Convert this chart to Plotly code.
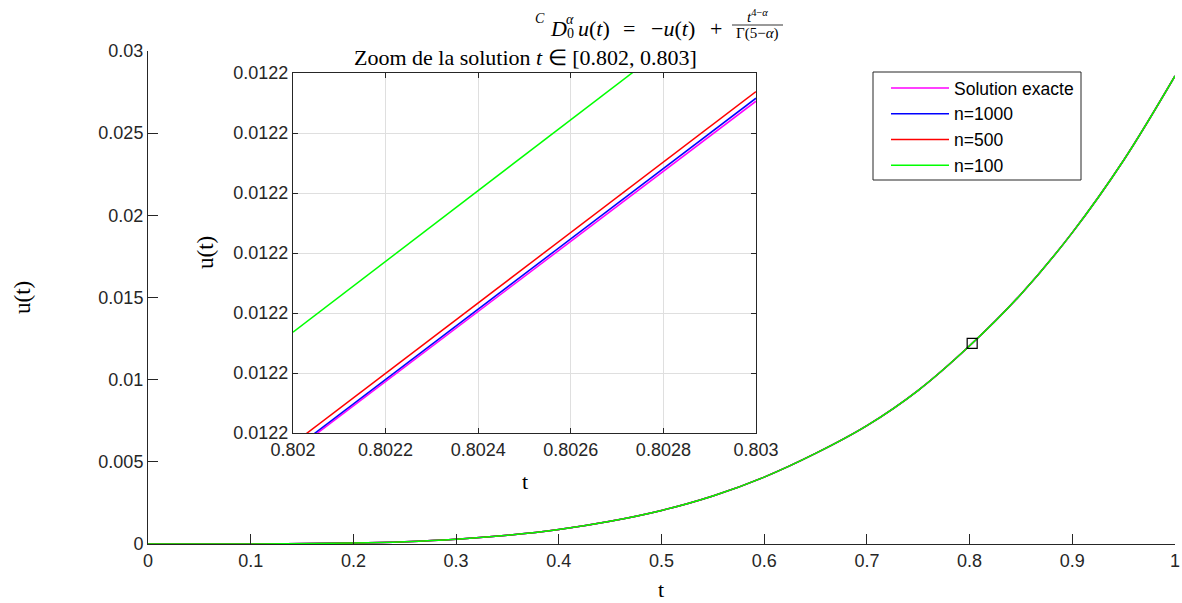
import plotly.graph_objects as go

# ---------------- data ----------------
t_main = [0, 0.1, 0.2, 0.25, 0.3, 0.35, 0.4, 0.45, 0.5, 0.55, 0.6, 0.65, 0.7,
          0.75, 0.8, 0.85, 0.9, 0.95, 1.0]
u_exact = [0, 0.000005, 0.00006, 0.00014, 0.00029, 0.00053, 0.00088, 0.00138,
           0.00204, 0.00292, 0.00407, 0.00551, 0.00720, 0.00935, 0.01206,
           0.01520, 0.01895, 0.02335, 0.02848]
u_n1000 = list(u_exact)
u_n500 = list(u_exact)
u_n100 = list(u_exact)

t_zoom = [0.802, 0.803]
z_exact = [0.0121769, 0.0122353]
z_n1000 = [0.0121772, 0.0122358]
z_n500 = [0.0121782, 0.0122369]
z_n100 = [0.0121968, 0.0122558]

names = ["Solution exacte", "n=1000", "n=500", "n=100"]
colors = ["#ff00ff", "#0000ff", "#ff0000", "#00ff00"]

main_xticks = [0, 0.1, 0.2, 0.3, 0.4, 0.5, 0.6, 0.7, 0.8, 0.9, 1]
main_xtext = ["0", "0.1", "0.2", "0.3", "0.4", "0.5", "0.6", "0.7", "0.8", "0.9", "1"]
main_yticks = [0, 0.005, 0.01, 0.015, 0.02, 0.025, 0.03]
main_ytext = ["0", "0.005", "0.01", "0.015", "0.02", "0.025", "0.03"]
zoom_xticks = [0.802, 0.8022, 0.8024, 0.8026, 0.8028, 0.803]
zoom_xtext = ["0.802", "0.8022", "0.8024", "0.8026", "0.8028", "0.803"]
zoom_yticks = [0.01218, 0.01219, 0.01220, 0.01221, 0.01222, 0.01223, 0.01224]
zoom_ytext = ["0.0122"] * 7
zoom_marker = (0.8025, 0.01221)

# ---------------- layout helpers ----------------
W, H = 1182, 603
def px(x):
    return x / W
def py(y):
    return 1 - y / H

AX = "#262626"
SANS = "Liberation Sans, Arial, sans-serif"
SERIF = "Liberation Serif, Times New Roman, serif"
TICK = dict(family=SANS, size=18, color=AX)

fig = go.Figure()

mains = [u_exact, u_n1000, u_n500, u_n100]
zooms = [z_exact, z_n1000, z_n500, z_n100]
for i in range(4):
    fig.add_trace(go.Scatter(x=t_main, y=mains[i], mode="lines", name=names[i],
                             line=dict(color=colors[i], width=1.5, shape="spline"),
                             xaxis="x", yaxis="y", legendgroup=names[i]))
for i in range(4):
    fig.add_trace(go.Scatter(x=t_zoom, y=zooms[i], mode="lines", showlegend=False,
                             line=dict(color=colors[i], width=1.5),
                             xaxis="x2", yaxis="y2"))

fig.add_trace(go.Scatter(x=[zoom_marker[0]], y=[zoom_marker[1]], mode="markers",
                         showlegend=False,
                         marker=dict(symbol="square-open", size=10, color="black",
                                     line=dict(width=1.2, color="black")),
                         xaxis="x", yaxis="y"))

common = dict(tickcolor=AX, showline=True, linecolor=AX, linewidth=1,
              zeroline=False, automargin=False, tickfont=TICK, ticks="inside")

fig.update_layout(
    width=W, height=H,
    margin=dict(l=0, r=0, t=0, b=0, autoexpand=False),
    paper_bgcolor="white", plot_bgcolor="white",
    font=dict(family=SANS, size=18, color=AX),
    xaxis=dict(domain=[px(148), px(1175)], range=[0, 1], tickvals=main_xticks,
               ticktext=main_xtext, ticklen=10, showgrid=False, anchor="y", **common),
    yaxis=dict(domain=[py(544), py(51)], range=[0, 0.03], tickvals=main_yticks,
               ticktext=main_ytext, ticklen=10, showgrid=False, anchor="x", **common),
    xaxis2=dict(domain=[px(293), px(756)], range=[0.802, 0.803], tickvals=zoom_xticks,
                ticktext=zoom_xtext, ticklen=5, mirror="ticks",
                showgrid=True, gridcolor="#dfdfdf", anchor="y2", **common),
    yaxis2=dict(domain=[py(433), py(73)], range=[0.01218, 0.01224], tickvals=zoom_yticks,
                ticktext=zoom_ytext, ticklen=5, mirror="ticks",
                showgrid=True, gridcolor="#dfdfdf", anchor="x2", **common),
    legend=dict(x=px(886), y=py(70), xanchor="left", yanchor="top",
                bgcolor="rgba(0,0,0,0)", borderwidth=0, itemwidth=58,
                tracegroupgap=0, font=dict(family=SANS, size=17.5, color="black")),
    showlegend=True,
)

shapes = [
    dict(type="rect", xref="paper", yref="paper", x0=px(873), x1=px(1081),
         y0=py(180), y1=py(72), line=dict(color=AX, width=1), fillcolor="rgba(0,0,0,0)"),
    dict(type="line", xref="paper", yref="paper", x0=px(732), x1=px(783),
         y0=py(25), y1=py(25), line=dict(color="black", width=0.8)),
]
fig.update_layout(shapes=shapes)

ann = []
def A(text, x, y, size, xanchor="center", yanchor="middle", angle=0, family=SERIF, color="black"):
    ann.append(dict(text=text, x=px(x), y=py(y), xref="paper", yref="paper",
                    showarrow=False, xanchor=xanchor, yanchor=yanchor, textangle=angle,
                    font=dict(family=family, size=size, color=color)))

# main title (formula)
A("<i>C</i>", 540, 19, 14, xanchor="center")
A("<i>D</i>", 558, 28, 22, xanchor="center")
A("<i>α</i>", 570, 20, 14, xanchor="center")
A("0", 570, 34, 14, xanchor="center")
A("<i>u</i>(<i>t</i>)", 576, 28, 22, xanchor="left")
A("=", 629, 28, 22, xanchor="center")
A("−<i>u</i>(<i>t</i>)", 649, 28, 22, xanchor="left")
A("+", 716, 28, 22, xanchor="center")
A("<i>t</i><sup>4−<i>α</i></sup>", 757, 16, 15)
A("Γ(5−<i>α</i>)", 757, 34, 15)
# inset title
A("Zoom de la solution <i>t</i> ∈ [0.802, 0.803]", 525, 57, 22)
# axis titles
A("t", 661, 589, 22)
A("u(t)", 22, 298, 23, angle=-90)
A("t", 525, 481, 22)
A("u(t)", 205, 253, 23, angle=-90)

fig.update_layout(annotations=ann)

fig.write_html("out.html", config={"displayModeBar": False},
               post_script="document.body.style.margin='0';document.body.style.padding='0';document.body.style.overflow='hidden';")
